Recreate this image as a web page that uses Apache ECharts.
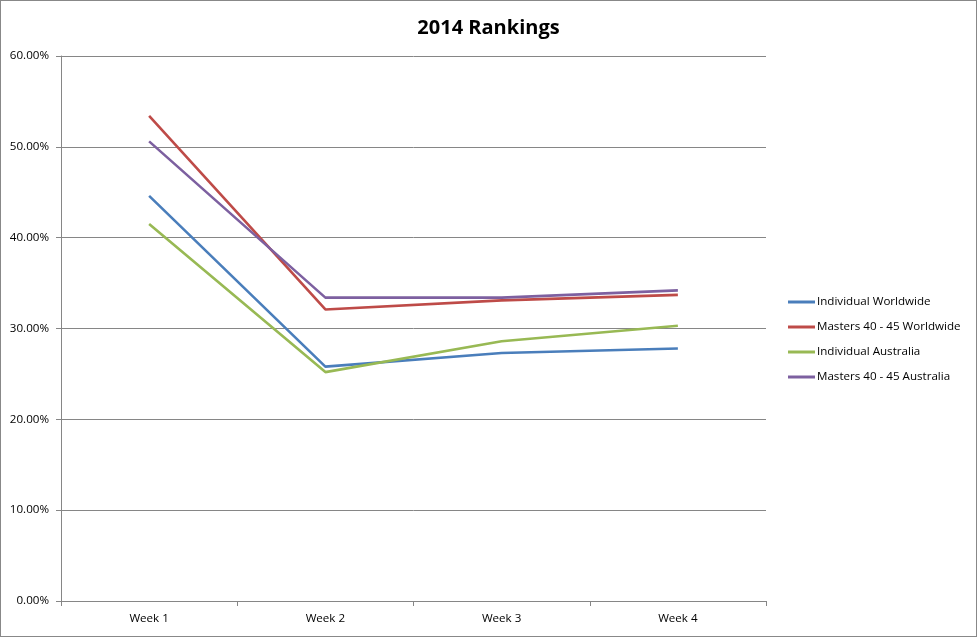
<!DOCTYPE html>
<html>
<head>
<meta charset="utf-8">
<script src="https://cdn.jsdelivr.net/npm/echarts@6/dist/echarts.min.js"></script>
<style>
html,body{margin:0;padding:0;background:#fff;}
#c{width:977px;height:637px;box-sizing:border-box;border:1px solid #888;}
</style>
</head>
<body>
<div id="c"></div>
<script>
var categories = ['Week 1', 'Week 2', 'Week 3', 'Week 4'];
var individualWorldwide = [44.6, 25.8, 27.3, 27.8];
var masters4045Worldwide = [53.4, 32.1, 33.1, 33.7];
var individualAustralia = [41.5, 25.2, 28.6, 30.3];
var masters4045Australia = [50.6, 33.4, 33.4, 34.2];
var seriesNames = ['Individual Worldwide', 'Masters 40 - 45 Worldwide', 'Individual Australia', 'Masters 40 - 45 Australia'];
var yTicks = [0, 10, 20, 30, 40, 50, 60];

var colors = ['#4A7EBB', '#BE4B48', '#98B954', '#7D60A0'];
var dataSets = [individualWorldwide, masters4045Worldwide, individualAustralia, masters4045Australia];
var font = 'Open Sans, Noto Sans, sans-serif';

var chart = echarts.init(document.getElementById('c'));
chart.setOption({
  animation: false,
  color: colors,
  title: {
    text: '2014 Rankings',
    left: 'center',
    top: 12,
    textStyle: {fontFamily: font, fontSize: 20, fontWeight: 'bold', color: '#000'}
  },
  legend: {
    orient: 'vertical',
    left: 782,
    top: 290,
    icon: 'rect',
    itemWidth: 27,
    itemHeight: 3,
    itemGap: 13,
    textStyle: {fontFamily: font, fontSize: 11.6, color: '#000', padding: [0, 0, 0, -3]},
    data: seriesNames
  },
  grid: {left: 60, right: 210, top: 55, bottom: 35, containLabel: false},
  xAxis: {
    type: 'category',
    data: categories,
    boundaryGap: true,
    axisLine: {lineStyle: {color: '#868686', width: 1}},
    axisTick: {show: true, length: 5, lineStyle: {color: '#868686'}},
    axisLabel: {fontFamily: font, fontSize: 11.6, color: '#000', margin: 12}
  },
  yAxis: {
    type: 'value',
    min: yTicks[0],
    max: yTicks[yTicks.length - 1],
    interval: 10,
    axisLine: {show: true, lineStyle: {color: '#868686', width: 1}},
    axisTick: {show: true, length: 5, lineStyle: {color: '#868686'}},
    splitLine: {lineStyle: {color: '#868686', width: 1}},
    axisLabel: {
      fontFamily: font, fontSize: 11.6, color: '#000', margin: 12,
      formatter: function (v) { return v.toFixed(2) + '%'; }
    }
  },
  series: seriesNames.map(function (n, i) {
    return {
      name: n,
      type: 'line',
      data: dataSets[i],
      symbol: 'none',
      lineStyle: {width: 2.6, color: colors[i]},
      itemStyle: {color: colors[i]}
    };
  })
});
</script>
</body>
</html>
